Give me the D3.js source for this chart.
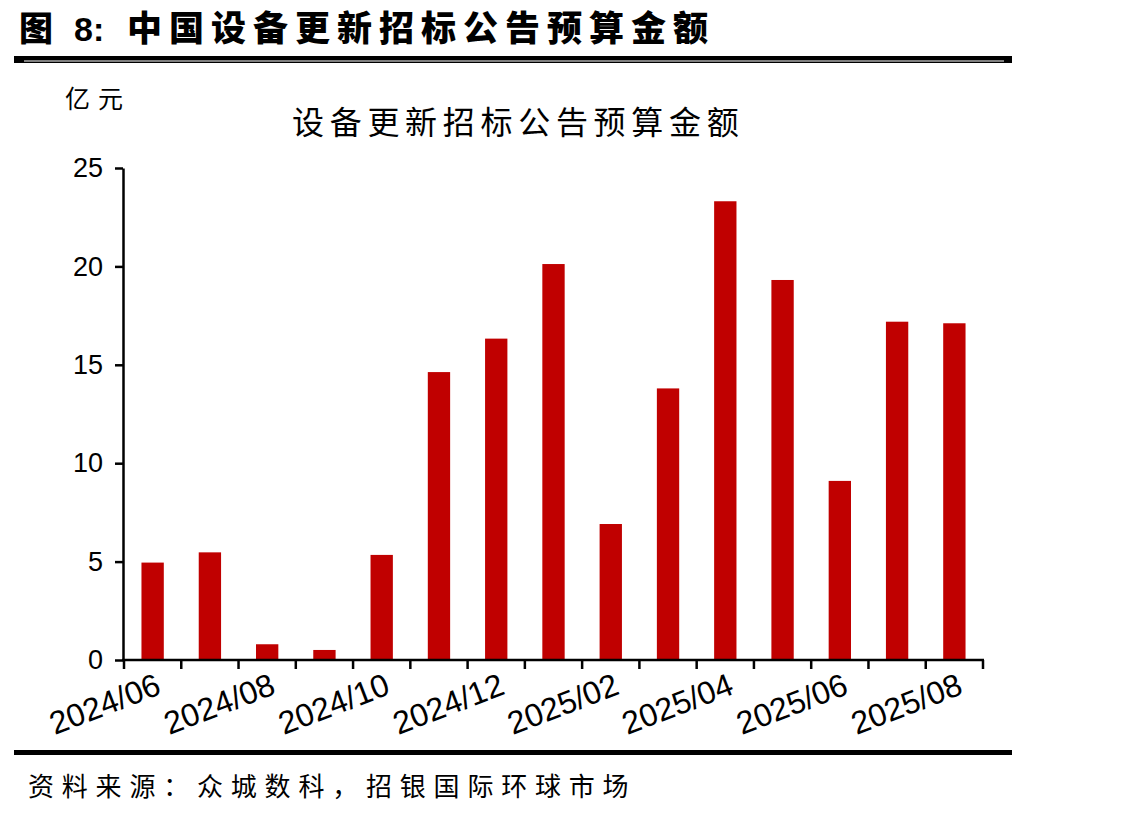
<!DOCTYPE html>
<html>
<head>
<meta charset="utf-8">
<script src="https://cdn.jsdelivr.net/npm/d3@7"></script>
<style>
  body { margin: 0; background: #fff; }
  svg { display: block; }
</style>
</head>
<body>
<svg id="chart"></svg>
<script>
const months = ['2024/06', '2024/07', '2024/08', '2024/09', '2024/10', '2024/11', '2024/12',
  '2025/01', '2025/02', '2025/03', '2025/04', '2025/05', '2025/06', '2025/07', '2025/08'];
const budget = [4.95, 5.47, 0.8, 0.51, 5.34, 14.63, 16.33, 20.12, 6.91, 13.8, 23.31, 19.31, 9.1, 17.19, 17.11];
const yTicks = [0, 5, 10, 15, 20, 25];
const shownLabels = ['2024/06', '2024/08', '2024/10', '2024/12', '2025/02', '2025/04', '2025/06', '2025/08'];

const width = 1126, height = 815;
const cjk = '"Noto Sans CJK SC", sans-serif';
const latin = '"Liberation Sans", Arial, sans-serif';

const svg = d3.select('#chart').attr('width', width).attr('height', height);

// header
svg.append('text').attr('x', 19).attr('y', 41)
  .style('font-family', cjk).style('font-weight', 900).style('font-size', '34px')
  .text('图');
svg.append('text').attr('x', 74).attr('y', 41)
  .style('font-family', latin).style('font-weight', 700).style('font-size', '34px')
  .text('8:');
svg.append('text').attr('x', 127).attr('y', 41)
  .style('font-family', cjk).style('font-weight', 900).style('font-size', '35px')
  .style('letter-spacing', '7px')
  .text('中国设备更新招标公告预算金额');
svg.append('rect').attr('x', 14).attr('y', 56).attr('width', 998).attr('height', 7).attr('fill', '#000');
svg.append('rect').attr('x', 24).attr('y', 60.5).attr('width', 980).attr('height', 1).attr('fill', '#fff');

// footer
svg.append('rect').attr('x', 14).attr('y', 750).attr('width', 998).attr('height', 5).attr('fill', '#000');
svg.append('text').attr('x', 28).attr('y', 796)
  .style('font-family', cjk).style('font-size', '26px').style('letter-spacing', '7.8px')
  .text('资料来源：众城数科，招银国际环球市场');

// chart texts
svg.append('text').attr('x', 65).attr('y', 108)
  .style('font-family', cjk).style('font-size', '25px').style('letter-spacing', '8px')
  .text('亿元');
svg.append('text').attr('x', 292).attr('y', 134)
  .style('font-family', cjk).style('font-size', '32px').style('letter-spacing', '5.7px')
  .text('设备更新招标公告预算金额');

const x = d3.scaleBand().domain(months).range([124, 983]).paddingInner(0.61).paddingOuter(0.305);
const y = d3.scaleLinear().domain([0, 25]).range([660, 168]);

svg.append('g').selectAll('rect').data(budget).enter()
  .append('rect')
  .attr('x', (d, i) => x(months[i]))
  .attr('width', x.bandwidth())
  .attr('y', d => y(d))
  .attr('height', d => y(0) - y(d))
  .attr('fill', '#C00000');

// y axis
const yAxis = svg.append('g').attr('transform', 'translate(123,0)')
  .call(d3.axisLeft(y).tickValues(yTicks).tickSize(8).tickPadding(12).tickSizeOuter(0));
yAxis.select('.domain').attr('stroke', '#000').attr('stroke-width', 2.5);
yAxis.selectAll('.tick line').attr('stroke', '#000').attr('stroke-width', 2.5);
yAxis.selectAll('.tick text').style('font-family', latin).style('font-size', '27px').attr('fill', '#000');

// x axis with ticks at month boundaries
const step = x.step();
const bounds = d3.range(months.length + 1).map(i => 124 + i * step);
const xAxis = svg.append('g').attr('transform', 'translate(0,660)');
xAxis.append('line').attr('x1', 122).attr('x2', 984).attr('y1', 0).attr('y2', 0)
  .attr('stroke', '#000').attr('stroke-width', 2.5);
xAxis.selectAll('line.tk').data(bounds).enter().append('line').classed('tk', true)
  .attr('x1', d => d).attr('x2', d => d).attr('y1', 0).attr('y2', 9)
  .attr('stroke', '#000').attr('stroke-width', 2.5);
xAxis.selectAll('text').data(shownLabels).enter().append('text')
  .attr('transform', d => `translate(${x(d) + x.bandwidth() / 2 + 6},23) rotate(-21)`)
  .attr('text-anchor', 'end')
  .attr('dy', '0.35em')
  .style('font-family', latin).style('font-size', '32px')
  .text(d => d);
</script>
</body>
</html>
